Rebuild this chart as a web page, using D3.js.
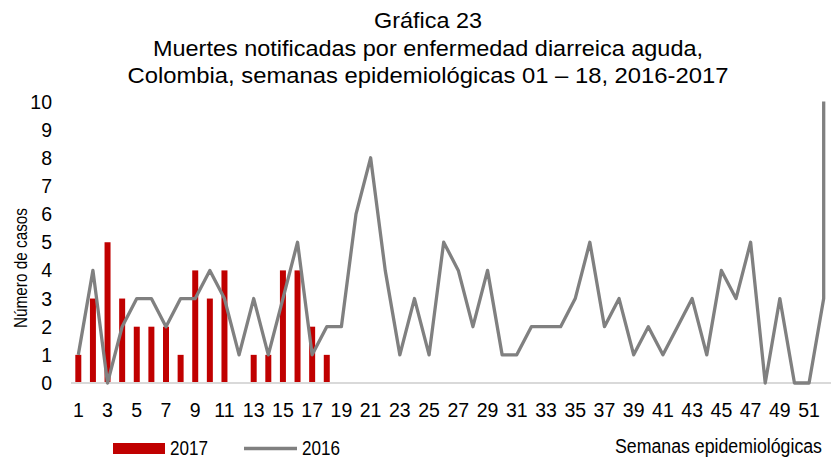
<!DOCTYPE html>
<html>
<head>
<meta charset="utf-8">
<script src="https://cdn.jsdelivr.net/npm/d3@7"></script>
<style>
  body { margin: 0; background: #fff; }
  text { font-family: "Liberation Sans", Arial, sans-serif; fill: #000; }
</style>
</head>
<body>
<div id="chart"></div>
<script>
// weeks 1..52
const weeks = d3.range(1, 53)
// 2017 deaths, weeks 1-18
const values2017 = [1, 3, 5, 3, 2, 2, 2, 1, 4, 3, 4, 0, 1, 1, 4, 4, 2, 1]
// 2016 deaths, weeks 1-52
const values2016 = [1, 4, 0, 2, 3, 3, 2, 3, 3, 4, 3, 1, 3, 1, 3, 5, 1, 2, 2, 6,
  8, 4, 1, 3, 1, 5, 4, 2, 4, 1, 1, 2, 2, 2, 3, 5, 2, 3, 1, 2,
  1, 2, 3, 1, 4, 3, 5, 0, 3, 0, 0, 3]
// the 2016 line ends with a jump at week 52
const tail2016 = 10
const yTicks = d3.range(0, 11)
const titleLines = ["Gráfica 23",
  "Muertes notificadas por enfermedad diarreica aguda,",
  "Colombia, semanas epidemiológicas 01 – 18, 2016-2017"]
const titleWidths = [108, 550, 601]

const width = 831, height = 459
const margin = {top: 101.5, right: 0, bottom: 76, left: 71}

const svg = d3.select("#chart").append("svg")
  .attr("width", width)
  .attr("height", height)

const x = d3.scaleBand()
  .domain(weeks)
  .range([margin.left, width - margin.right])
  .paddingInner(0.59)
  .paddingOuter(0.295)
const cx = w => x(w) + x.bandwidth() / 2

const y = d3.scaleLinear()
  .domain([0, 10])
  .range([height - margin.bottom, margin.top])

// title
svg.append("g").selectAll("text")
  .data(titleLines)
  .join("text")
    .attr("x", 428)
    .attr("y", (d, i) => 28 + i * 27.5)
    .attr("text-anchor", "middle")
    .attr("textLength", (d, i) => titleWidths[i])
    .attr("lengthAdjust", "spacingAndGlyphs")
    .style("font-size", "21.5px")
    .text(d => d)

// y axis labels
svg.append("g").selectAll("text")
  .data(yTicks)
  .join("text")
    .attr("x", 52)
    .attr("y", d => y(d) + 7)
    .attr("text-anchor", "end")
    .style("font-size", "19.5px")
    .text(d => d)

svg.append("text")
  .attr("transform", `translate(27, 268) rotate(-90)`)
  .attr("text-anchor", "middle")
  .attr("textLength", 120)
  .attr("lengthAdjust", "spacingAndGlyphs")
  .style("font-size", "18px")
  .text("Número de casos")

// x axis labels (odd weeks)
svg.append("g").selectAll("text")
  .data(weeks.filter(w => w % 2 == 1))
  .join("text")
    .attr("x", d => cx(d))
    .attr("y", 416.5)
    .attr("text-anchor", "middle")
    .style("font-size", "19.5px")
    .text(d => d)

// bars 2017
svg.append("g").selectAll("rect")
  .data(values2017.map((v, i) => ({week: i + 1, value: v})))
  .join("rect")
    .attr("x", d => x(d.week))
    .attr("y", d => y(d.value))
    .attr("width", x.bandwidth())
    .attr("height", d => y(0) - y(d.value))
    .attr("fill", "#c00000")

// baseline
svg.append("line")
  .attr("x1", margin.left)
  .attr("x2", width)
  .attr("y1", y(0))
  .attr("y2", y(0))
  .attr("stroke", "#d9d9d9")
  .attr("stroke-width", 2)

// line 2016
const lineData = values2016.map((v, i) => ({week: i + 1, value: v}))
lineData.push({week: 52, value: tail2016})
const line = d3.line()
  .x(d => cx(d.week))
  .y(d => y(d.value))

svg.append("path")
  .datum(lineData)
  .attr("d", line)
  .attr("fill", "none")
  .attr("stroke", "#808080")
  .attr("stroke-width", 3.3)
  .attr("stroke-linejoin", "round")

// legend
const legend = svg.append("g")
legend.append("rect")
  .attr("x", 113).attr("y", 443)
  .attr("width", 52).attr("height", 11)
  .attr("fill", "#c00000")
legend.append("text")
  .attr("x", 170).attr("y", 455)
  .attr("textLength", 38)
  .attr("lengthAdjust", "spacingAndGlyphs")
  .style("font-size", "21px")
  .text("2017")
legend.append("line")
  .attr("x1", 244).attr("x2", 297)
  .attr("y1", 448.5).attr("y2", 448.5)
  .attr("stroke", "#808080")
  .attr("stroke-width", 3.3)
legend.append("text")
  .attr("x", 302).attr("y", 455)
  .attr("textLength", 38)
  .attr("lengthAdjust", "spacingAndGlyphs")
  .style("font-size", "21px")
  .text("2016")

svg.append("text")
  .attr("x", 615).attr("y", 453)
  .attr("textLength", 207)
  .attr("lengthAdjust", "spacingAndGlyphs")
  .style("font-size", "19.5px")
  .text("Semanas epidemiológicas")
</script>
</body>
</html>
